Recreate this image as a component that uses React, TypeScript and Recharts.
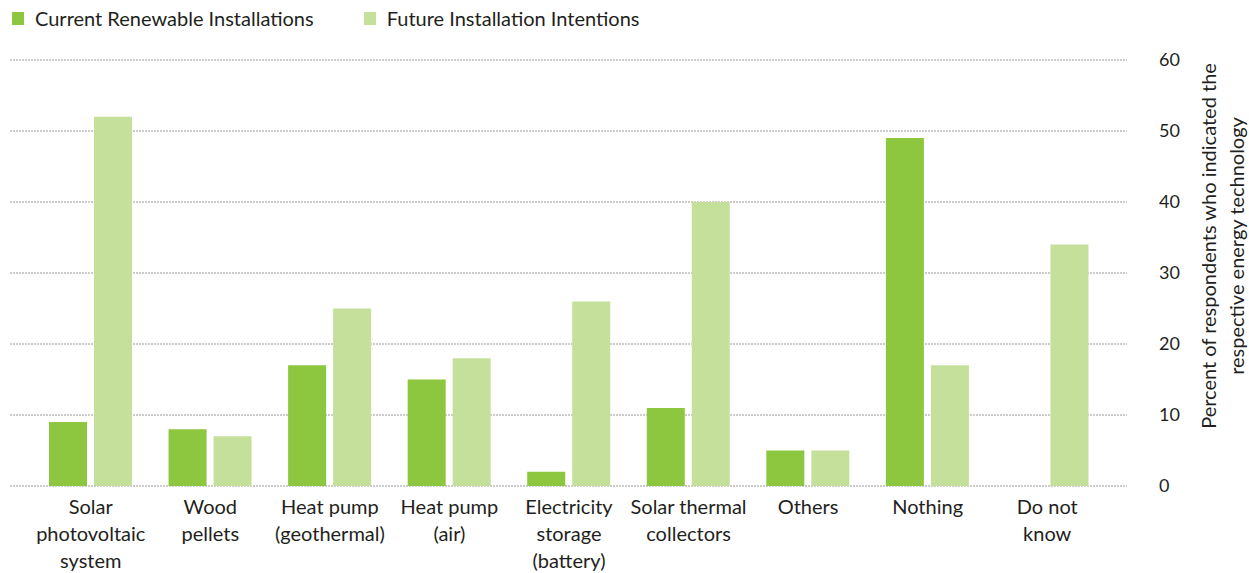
import React from "react";
import { BarChart, Bar, XAxis, YAxis, CartesianGrid } from "recharts";

// categories (line breaks follow the original labels)
const categories = [
  "Solar\nphotovoltaic\nsystem",
  "Wood\npellets",
  "Heat pump\n(geothermal)",
  "Heat pump\n(air)",
  "Electricity\nstorage\n(battery)",
  "Solar thermal\ncollectors",
  "Others",
  "Nothing",
  "Do not\nknow",
];

const currentInstallations = [9, 8, 17, 15, 2, 11, 5, 49, 0];
const futureIntentions = [52, 7, 25, 18, 26, 40, 5, 17, 34];

const yTicks = [0, 10, 20, 30, 40, 50, 60];

const data = categories.map((name, i) => ({
  name,
  current: currentInstallations[i],
  future: futureIntentions[i],
}));

const DARK = "#8dc63f";
const LIGHT = "#c5e09b";
const TEXT = "#231f20";
const FONT = "Lato, 'Open Sans', sans-serif";

const CategoryTick = (props: any) => {
  const { x, y, payload } = props;
  const lines = String(payload.value).split("\n");
  return (
    <text x={x} y={y} textAnchor="middle" fill={TEXT} fontSize={20} fontFamily={FONT}>
      {lines.map((l, i) => (
        <tspan key={i} x={x} dy={i === 0 ? 20 : 27}>
          {l}
        </tspan>
      ))}
    </text>
  );
};

const AxisTitle = (props: any) => {
  const vb = props.viewBox || {};
  const cx = 1229;
  const cy = vb.y + vb.height / 2 - 27;
  return (
    <text
      transform={`translate(${cx}, ${cy}) rotate(-90)`}
      textAnchor="middle"
      fill={TEXT}
      fontSize={20}
      fontFamily={FONT}
    >
      <tspan x={0} dy={-13}>Percent of respondents who indicated the</tspan>
      <tspan x={0} dy={28}>respective energy technology</tspan>
    </text>
  );
};

export default function App() {
  return (
    <div style={{ position: "relative", width: 1249, height: 573, fontFamily: FONT }}>
      <style>{`body { margin: 0; }`}</style>
      <div
        style={{
          position: "absolute",
          left: 12,
          top: 6,
          display: "flex",
          alignItems: "center",
          fontSize: 20,
          color: TEXT,
          zIndex: 2,
        }}
      >
        <span style={{ width: 12, height: 13, background: DARK, display: "inline-block", marginRight: 11 }} />
        <span style={{ marginRight: 50 }}>Current Renewable Installations</span>
        <span style={{ width: 12, height: 13, background: LIGHT, display: "inline-block", marginRight: 11 }} />
        <span>Future Installation Intentions</span>
      </div>
      <BarChart
        width={1249}
        height={573}
        data={data}
        margin={{ top: 60, right: 0, bottom: 0, left: 10 }}
        barSize={38}
        barGap={7}
      >
        <CartesianGrid vertical={false} stroke="#9a9a9a" strokeDasharray="2 1" />
        <XAxis
          dataKey="name"
          interval={0}
          height={87}
          axisLine={false}
          tickLine={false}
          padding={{ left: 21, right: 20 }}
          tick={<CategoryTick />}
        />
        <YAxis
          orientation="right"
          width={122}
          domain={[0, 60]}
          ticks={yTicks}
          axisLine={false}
          tickLine={false}
          tickMargin={26}
          tick={{ fill: TEXT, fontSize: 18, fontFamily: FONT }}
          label={<AxisTitle />}
        />
        <Bar dataKey="current" fill={DARK} isAnimationActive={false} />
        <Bar dataKey="future" fill={LIGHT} isAnimationActive={false} />
      </BarChart>
    </div>
  );
}
